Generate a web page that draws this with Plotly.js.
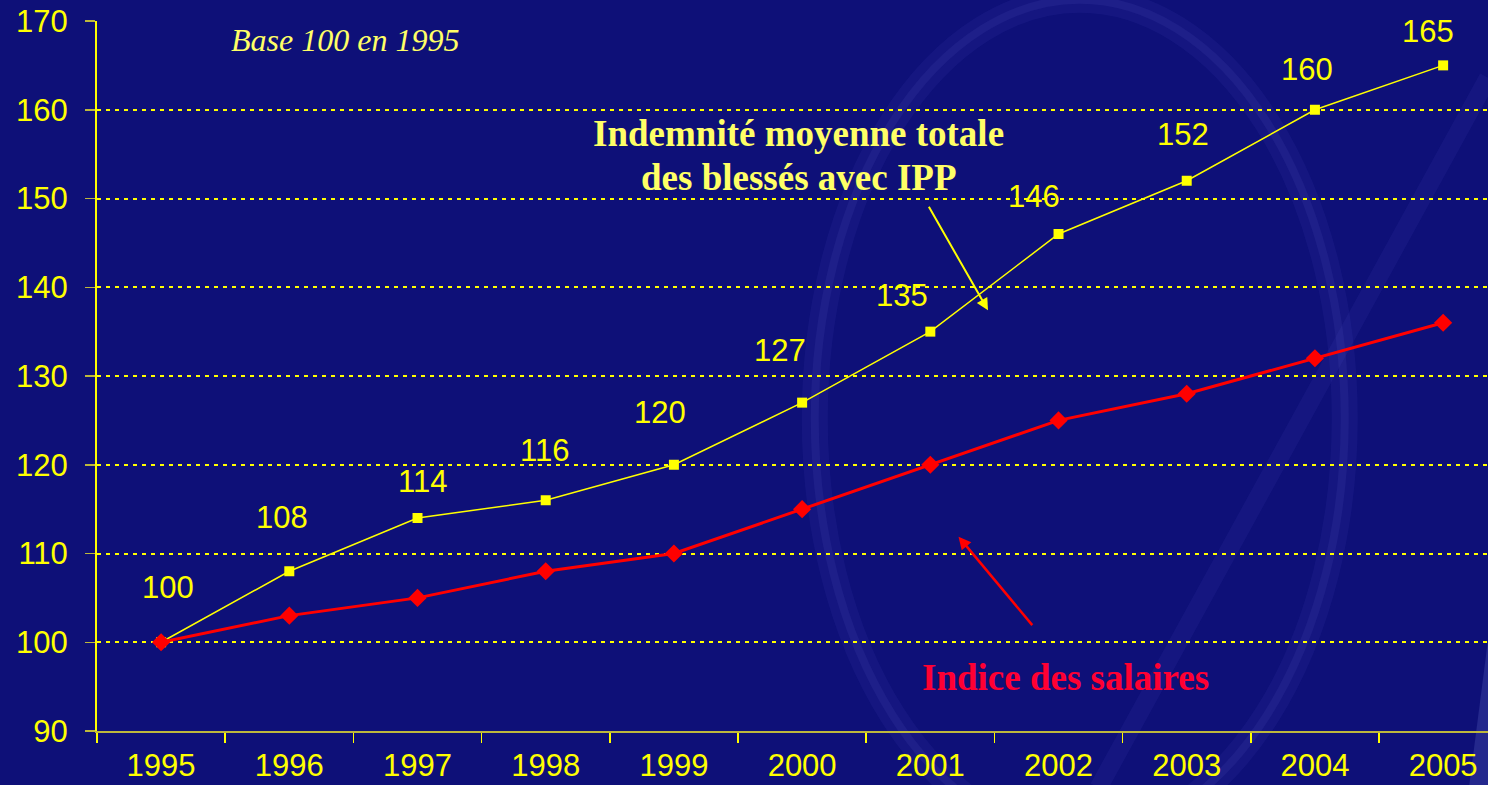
<!DOCTYPE html>
<html>
<head>
<meta charset="utf-8">
<script src="https://cdn.plot.ly/plotly-3.0.1.min.js"></script>
<style>html,body{margin:0;padding:0;background:#0E1078;}#chart{width:1488px;height:785px;}</style>
</head>
<body>
<div id="chart"></div>
<script>
// ---- data ----
const years = ["1995","1996","1997","1998","1999","2000","2001","2002","2003","2004","2005"];
const indemnite = [100,108,114,116,120,127,135,146,152,160,165];
const salaires = [100,103,105,108,110,115,120,125,128,132,136];
const seriesNames = ["Indemnité moyenne totale des blessés avec IPP", "Indice des salaires"];
const yTicks = [90,100,110,120,130,140,150,160,170];

// label offsets (pixels) for the value labels
const labelDx = [7,-7,5,-1,-14,-22,-28,-25,-4,-8,-15];
const labelDy = [55,54,37,50,52,52,36,38,46,40,34];

const yellow = "#FFFF00";
const red = "#FF0000";
const numFont = "Liberation Sans, Arial, sans-serif";
const serif = "Liberation Serif, Times New Roman, serif";

const traces = [
  {
    x: years, y: indemnite, name: seriesNames[0], type: "scatter", mode: "lines+markers",
    line: {color: yellow, width: 1.5},
    marker: {symbol: "square", size: 10, color: yellow},
    cliponaxis: false
  },
  {
    x: years, y: salaires, name: seriesNames[1], type: "scatter", mode: "lines+markers",
    line: {color: red, width: 3},
    marker: {symbol: "diamond", size: 14, color: red},
    cliponaxis: false
  }
];

const annotations = indemnite.map((v, i) => ({
  x: i, y: v, xref: "x", yref: "y",
  text: String(v), showarrow: false,
  xanchor: "center", yanchor: "middle",
  xshift: labelDx[i], yshift: labelDy[i],
  font: {family: numFont, size: 31, color: yellow}
}));

annotations.push({
  xref: "paper", yref: "paper", x: 0.178, y: 0.973, xanchor: "center", yanchor: "middle",
  text: "<i>Base 100 en 1995</i>", showarrow: false,
  font: {family: serif, size: 32, color: "#FFFF66"}
});
annotations.push({
  xref: "paper", yref: "paper", x: 0.5045, y: 0.842, xanchor: "center", yanchor: "middle",
  text: "<b>Indemnité moyenne totale</b>", showarrow: false,
  font: {family: serif, size: 37, color: "#FFFF66"}
});
annotations.push({
  xref: "paper", yref: "paper", x: 0.5045, y: 0.780, xanchor: "center", yanchor: "middle",
  text: "<b>des blessés avec IPP</b>", showarrow: false,
  font: {family: serif, size: 37, color: "#FFFF66"}
});
annotations.push({
  xref: "paper", yref: "paper", x: 0.696, y: 0.076, xanchor: "center", yanchor: "middle",
  text: "<b>Indice des salaires</b>", showarrow: false,
  font: {family: serif, size: 37, color: "#FF0033"}
});
// arrows
annotations.push({
  x: 6.45, y: 137.4, xref: "x", yref: "y", text: "", showarrow: true,
  ax: -60, ay: -105, arrowcolor: yellow, arrowwidth: 2, arrowhead: 2, arrowsize: 1.2
});
annotations.push({
  x: 6.22, y: 111.9, xref: "x", yref: "y", text: "", showarrow: true,
  ax: 75, ay: 90, arrowcolor: red, arrowwidth: 2.5, arrowhead: 2, arrowsize: 1
});

// background decoration (soft swirl)
const shapes = [
  {type: "circle", xref: "paper", yref: "paper", x0: 0.516, x1: 0.897, y0: -0.15, y1: 1.03,
   line: {color: "rgba(110,120,235,0.07)", width: 26}, layer: "below"},
  {type: "circle", xref: "paper", yref: "paper", x0: 0.516, x1: 0.897, y0: -0.15, y1: 1.03,
   line: {color: "rgba(150,160,255,0.07)", width: 8}, layer: "below"},
  {type: "line", xref: "paper", yref: "paper", x0: 0.72, y0: -0.08, x1: 1.0, y1: 0.92,
   line: {color: "rgba(110,120,235,0.07)", width: 18}, layer: "below"},
  {type: "line", xref: "paper", yref: "paper", x0: 0.995, y0: -0.08, x1: 1.02, y1: 0.3,
   line: {color: "rgba(140,150,240,0.18)", width: 24}, layer: "below"}
];

const layout = {
  width: 1488, height: 785,
  margin: {l: 97, r: 0, t: 21, b: 54},
  paper_bgcolor: "#0E1078",
  plot_bgcolor: "rgba(0,0,0,0)",
  showlegend: false,
  font: {family: numFont, color: yellow},
  xaxis: {
    type: "category", range: [-0.5, 10.35],
    showline: true, linecolor: "#BDB83C", linewidth: 2,
    ticks: "outside", tickson: "boundaries", ticklen: 10, tickcolor: yellow, tickwidth: 1.5,
    showgrid: false, zeroline: false,
    tickfont: {size: 31, color: yellow}, ticklabelstandoff: 6
  },
  yaxis: {
    range: [90, 170], tickvals: yTicks, ticktext: yTicks.map(String),
    showline: true, linecolor: yellow, linewidth: 2,
    ticks: "outside", ticklen: 10, tickcolor: "#BDB83C", tickwidth: 1.5,
    showgrid: true, gridcolor: yellow, gridwidth: 2, griddash: "4px,5px",
    zeroline: false,
    tickfont: {size: 31, color: yellow}, ticklabelstandoff: 11
  },
  annotations: annotations,
  shapes: shapes
};

Plotly.newPlot("chart", traces, layout, {displayModeBar: false, staticPlot: true});
</script>
</body>
</html>
